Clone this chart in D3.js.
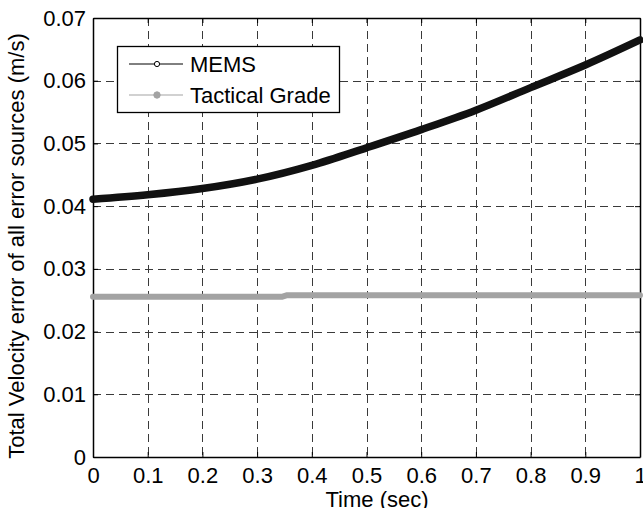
<!DOCTYPE html>
<html>
<head>
<meta charset="utf-8">
<script src="https://cdn.jsdelivr.net/npm/d3@7"></script>
<style>
  html, body { margin: 0; padding: 0; background: #fff; }
  svg { display: block; }
  text { font-family: "Liberation Sans", Arial, Helvetica, sans-serif; fill: #000; }
</style>
</head>
<body>
<svg id="chart" width="643" height="508"></svg>
<script>
// Total velocity error over time for two IMU grades
const memsTime = [0, 0.1, 0.2, 0.3, 0.4, 0.5, 0.6, 0.7, 0.8, 0.9, 1.0];
const memsVel = [0.0411, 0.0418, 0.0428, 0.0443, 0.0465, 0.0493, 0.0522, 0.0553, 0.0589, 0.0625, 0.0665];

const tacticalTime = [0, 0.345, 0.355, 1.0];
const tacticalVel = [0.02555, 0.02555, 0.0258, 0.0258];

const xTicks = [0, 0.1, 0.2, 0.3, 0.4, 0.5, 0.6, 0.7, 0.8, 0.9, 1];
const xTickLabels = ["0", "0.1", "0.2", "0.3", "0.4", "0.5", "0.6", "0.7", "0.8", "0.9", "1"];
const yTicks = [0, 0.01, 0.02, 0.03, 0.04, 0.05, 0.06, 0.07];
const yTickLabels = ["0", "0.01", "0.02", "0.03", "0.04", "0.05", "0.06", "0.07"];

const seriesNames = ["MEMS", "Tactical Grade"];
const xLabel = "Time (sec)";
const yLabel = "Total Velocity error of all error sources (m/s)";

const plot = { left: 93, right: 640, top: 18, bottom: 457 };
const fontSize = 22;

const svg = d3.select("#chart");

const x = d3.scaleLinear().domain([0, 1]).range([plot.left, plot.right]);
const y = d3.scaleLinear().domain([0, 0.07]).range([plot.bottom, plot.top]);

// dashed grid
const grid = svg.append("g").attr("stroke", "#3a3a3a").attr("stroke-width", 1)
  .attr("stroke-dasharray", "8,5");
grid.selectAll(".gx").data(xTicks.slice(1, -1)).join("line")
  .attr("x1", d => Math.round(x(d)) + 0.5).attr("x2", d => Math.round(x(d)) + 0.5)
  .attr("y1", plot.top).attr("y2", plot.bottom);
grid.selectAll(".gy").data(yTicks.slice(1, -1)).join("line")
  .attr("y1", d => Math.round(y(d)) + 0.5).attr("y2", d => Math.round(y(d)) + 0.5)
  .attr("x1", plot.left).attr("x2", plot.right);

// axes with inward ticks
function styleAxis(g) {
  g.selectAll("path").attr("stroke", "#000").attr("stroke-width", 1.5);
  g.selectAll(".tick line").attr("stroke", "#000").attr("stroke-width", 1);
  g.selectAll("text").attr("font-size", fontSize).attr("font-family", '"Liberation Sans", Arial, sans-serif');
}

const xAxis = d3.axisBottom(x).tickValues(xTicks)
  .tickFormat((d, i) => xTickLabels[i]).tickSizeInner(-5).tickSizeOuter(0).tickPadding(10);
svg.append("g").attr("transform", `translate(0,${plot.bottom})`).call(xAxis).call(styleAxis);

const xAxisTop = d3.axisTop(x).tickValues(xTicks).tickFormat("").tickSizeInner(-5).tickSizeOuter(0);
svg.append("g").attr("transform", `translate(0,${plot.top})`).call(xAxisTop).call(styleAxis);

const yAxis = d3.axisLeft(y).tickValues(yTicks)
  .tickFormat((d, i) => yTickLabels[i]).tickSizeInner(-5).tickSizeOuter(0).tickPadding(7);
svg.append("g").attr("transform", `translate(${plot.left},0)`).call(yAxis).call(styleAxis);

const yAxisRight = d3.axisRight(y).tickValues(yTicks).tickFormat("").tickSizeInner(-5).tickSizeOuter(0);
svg.append("g").attr("transform", `translate(${plot.right},0)`).call(yAxisRight).call(styleAxis);

svg.selectAll(".domain").attr("fill", "none");

// data lines
const line = d3.line().x(d => x(d[0])).y(d => y(d[1]));

svg.append("path")
  .datum(tacticalTime.map((t, i) => [t, tacticalVel[i]]))
  .attr("d", line)
  .attr("fill", "none").attr("stroke", "#a3a3a3").attr("stroke-width", 6)
  .attr("stroke-linecap", "round").attr("stroke-linejoin", "round");

svg.append("path")
  .datum(memsTime.map((t, i) => [t, memsVel[i]]))
  .attr("d", line.curve(d3.curveMonotoneX))
  .attr("fill", "none").attr("stroke", "#111").attr("stroke-width", 7.5)
  .attr("stroke-linecap", "round").attr("stroke-linejoin", "round");

// legend
const lg = svg.append("g");
lg.append("rect").attr("x", 117.5).attr("y", 46.5).attr("width", 222).attr("height", 66)
  .attr("fill", "#fff").attr("stroke", "#000").attr("stroke-width", 1.3);

const legendRows = [
  { name: seriesNames[0], y: 64, color: "#000", fill: "#fff", r: 2.6 },
  { name: seriesNames[1], y: 95, color: "#a3a3a3", fill: "#a3a3a3", r: 3.2 }
];
legendRows.forEach(r => {
  lg.append("line").attr("x1", 129).attr("x2", 183).attr("y1", r.y).attr("y2", r.y)
    .attr("stroke", r.color).attr("stroke-width", 1);
  lg.append("circle").attr("cx", 157).attr("cy", r.y).attr("r", r.r)
    .attr("fill", r.fill).attr("stroke", r.color).attr("stroke-width", 1);
  lg.append("text").attr("x", 190).attr("y", r.y + 8).attr("font-size", fontSize).text(r.name);
});

// axis titles
svg.append("text").attr("x", 377).attr("y", 507).attr("text-anchor", "middle")
  .attr("font-size", fontSize).text(xLabel);
svg.append("text").attr("transform", "translate(24,246) rotate(-90)").attr("text-anchor", "middle")
  .attr("font-size", fontSize).text(yLabel);
</script>
</body>
</html>
